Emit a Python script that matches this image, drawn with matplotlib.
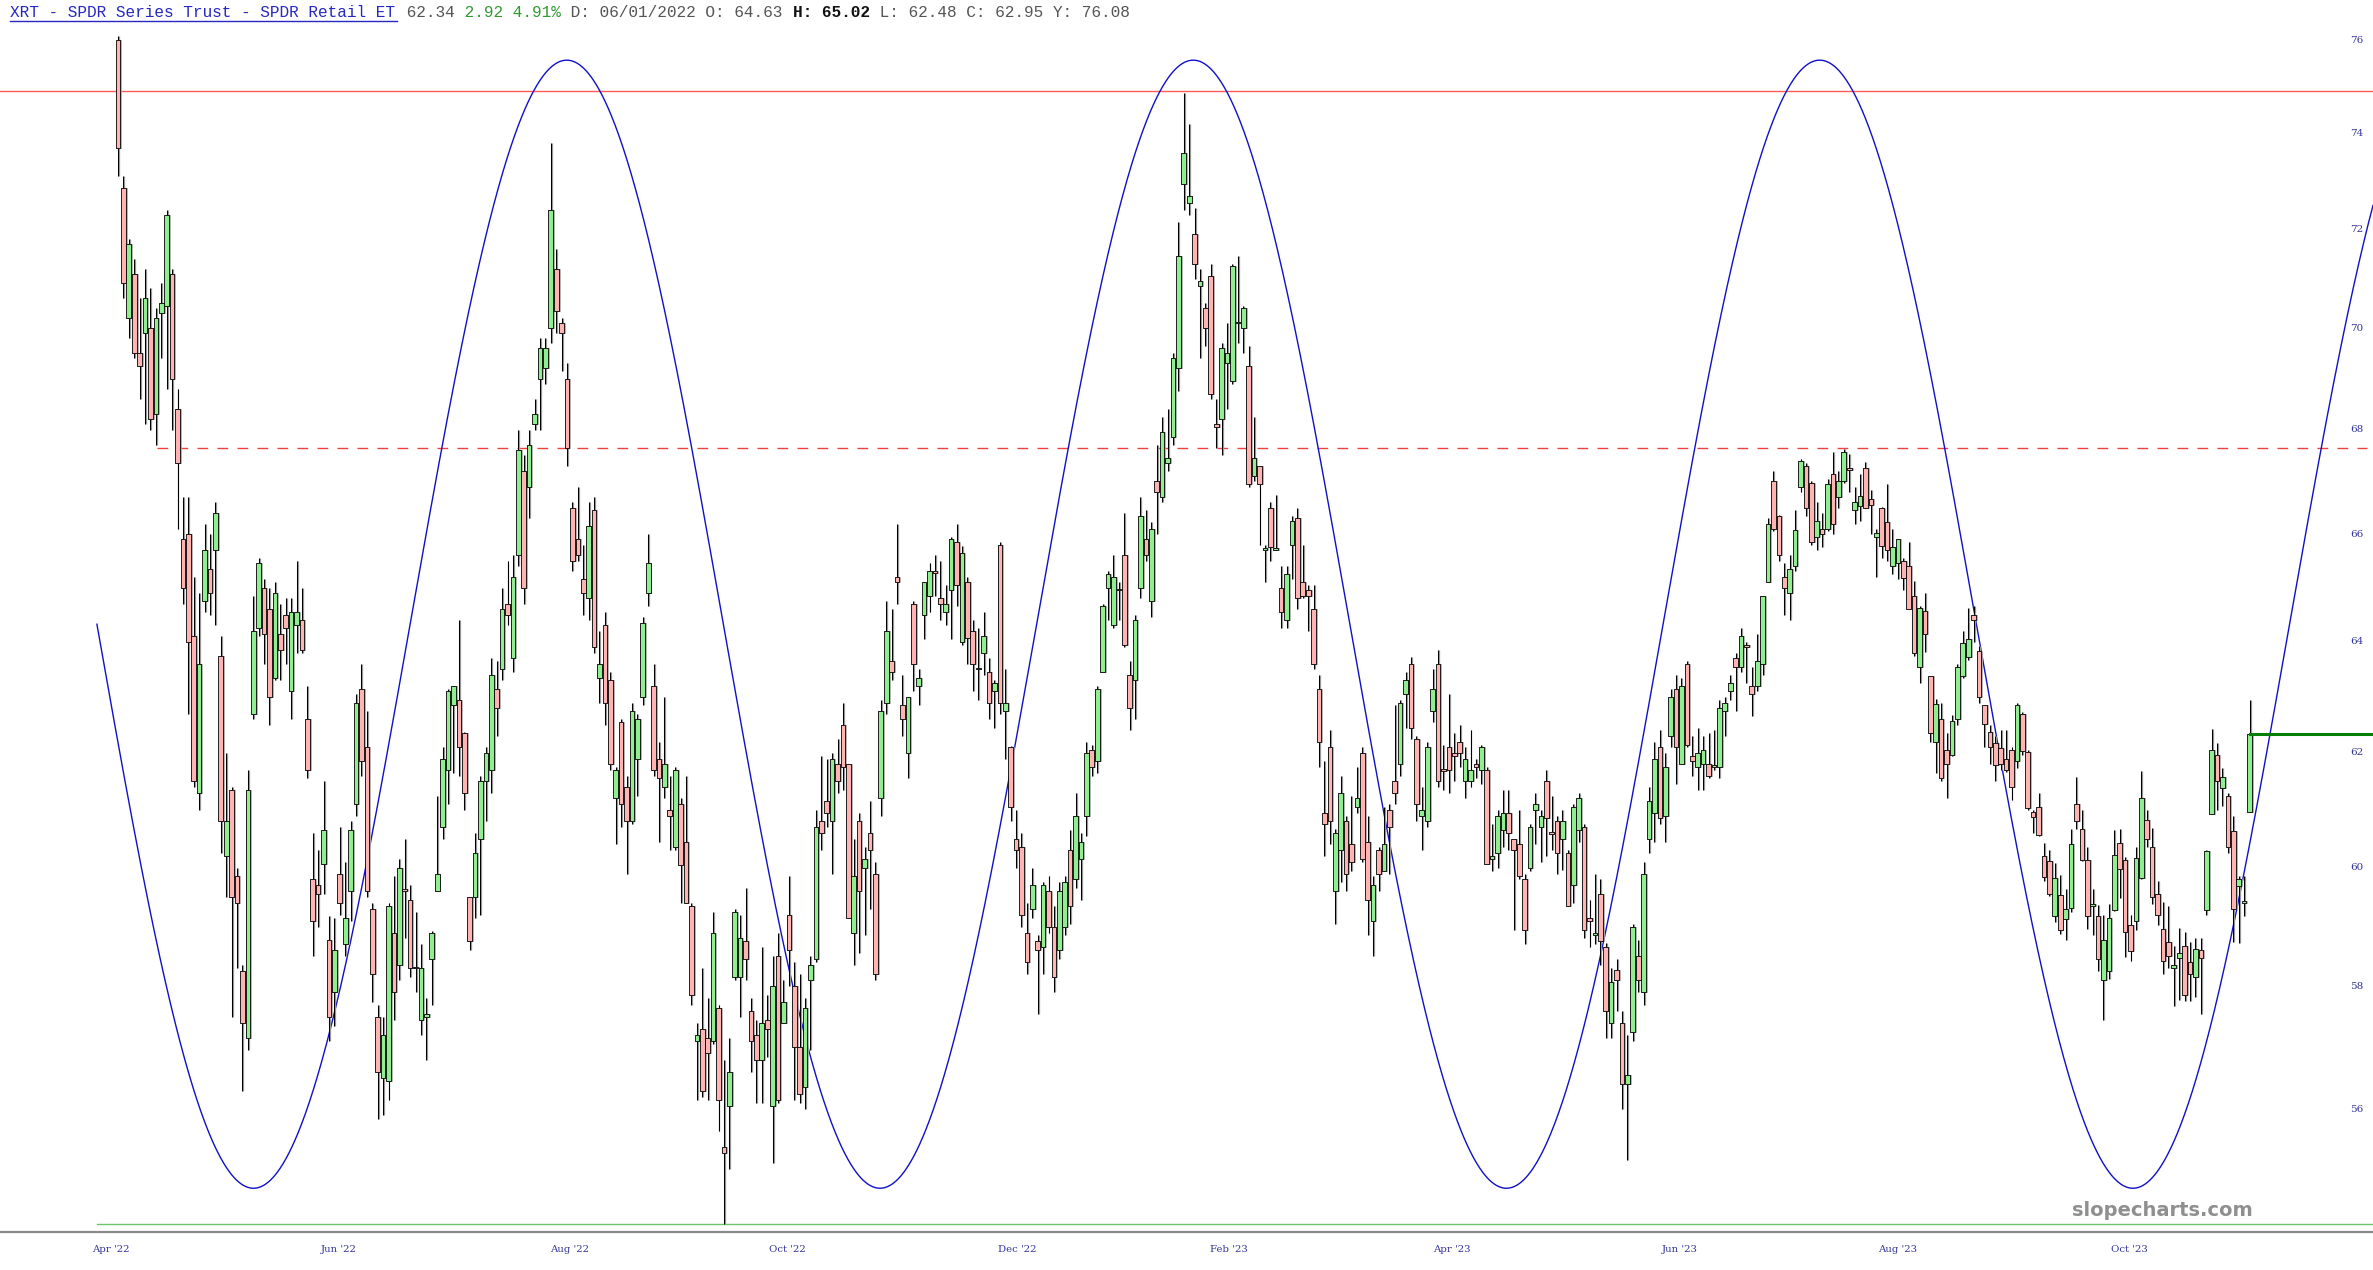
import numpy as np
import matplotlib
matplotlib.use("Agg")
import matplotlib.pyplot as plt
from matplotlib.patches import Rectangle
from matplotlib.collections import PatchCollection, LineCollection
from matplotlib.transforms import blended_transform_factory

# ---------------- data (XRT daily candles, Apr 2022 - Nov 2023) ----------------
opens = [
    76.0, 72.85, 70.2, 71.1, 69.5, 69.9, 70.0, 68.3, 70.3, 70.45,
    71.1, 68.4, 65.9, 66.0, 64.1, 61.3, 64.75, 65.35, 65.7, 63.75,
    60.2, 61.35, 59.85, 58.25, 57.15, 62.7, 64.25, 65.0, 64.6, 63.35,
    64.15, 64.5, 63.1, 64.3, 64.4, 62.6, 59.8, 59.7, 60.06, 58.78,
    57.9, 59.9, 58.7, 59.6, 61.1, 63.15, 62.1, 59.3, 57.5, 56.5,
    56.45, 58.9, 58.35, 59.62, 59.45, 58.32, 57.45, 57.5, 58.45, 59.6,
    60.7, 61.7, 62.85, 62.95, 62.35, 59.5, 59.5, 60.5, 61.5, 61.7,
    63.15, 63.5, 64.7, 63.7, 65.6, 67.2, 66.9, 68.1, 69.0, 69.2,
    70.0, 71.2, 70.1, 69.0, 66.5, 65.9, 65.15, 64.8, 66.45, 63.35,
    64.3, 63.3, 61.2, 62.55, 61.4, 60.8, 61.9, 63.0, 64.9, 63.2,
    61.9, 61.4, 61.0, 60.35, 61.1, 60.45, 59.35, 57.1, 57.3, 57.15,
    57.1, 57.65, 55.4, 56.05, 58.15, 58.15, 58.75, 57.6, 57.2, 56.8,
    57.45, 56.05, 58.5, 57.4, 59.2, 58.0, 57.0, 56.35, 58.1, 58.45,
    60.8, 61.15, 60.8, 61.8, 62.5, 61.8, 58.9, 60.8, 60.0, 60.6,
    59.9, 61.2, 62.9, 63.65, 65.2, 62.85, 62.0, 64.7, 63.2, 64.5,
    64.85, 65.28, 64.8, 64.55, 64.95, 65.85, 64.0, 65.1, 64.2, 63.5,
    63.8, 63.45, 63.1, 65.8, 62.75, 62.1, 60.5, 60.35, 58.9, 59.3,
    58.75, 58.65, 59.6, 59.0, 58.6, 59.0, 60.3, 59.8, 60.15, 60.9,
    62.05, 61.85, 63.45, 65.0, 64.3, 64.95, 65.6, 63.4, 63.3, 65.0,
    65.9, 64.75, 67.0, 66.7, 67.35, 67.85, 69.2, 72.95, 72.55, 71.9,
    70.85, 70.4, 71.05, 68.1, 68.2, 69.3, 68.95, 70.1, 70.0, 69.25,
    67.1, 67.3, 65.7, 66.5, 65.7, 65.0, 64.4, 65.8, 66.3, 65.1,
    64.95, 64.6, 63.15, 60.95, 62.1, 59.6, 60.3, 60.8, 60.4, 61.05,
    62.0, 60.45, 59.1, 60.3, 59.95, 61.0, 61.5, 61.8, 63.05, 63.6,
    62.25, 60.9, 60.8, 62.75, 63.6, 61.7, 62.1, 62.0, 62.2, 61.5,
    61.5, 61.8, 61.7, 61.7, 60.15, 60.25, 60.65, 60.95, 60.5, 60.4,
    59.8, 60.0, 61.0, 60.7, 61.5, 60.6, 60.8, 60.5, 60.25, 59.7,
    60.65, 60.7, 59.15, 58.85, 59.55, 58.65, 57.4, 58.28, 57.4, 56.4,
    57.25, 58.5, 57.9, 60.5, 60.95, 62.1, 60.9, 62.3, 63.15, 61.8,
    63.6, 61.95, 61.75, 61.8, 61.8, 61.76, 61.75, 62.75, 63.1, 63.7,
    63.55, 63.95, 63.2, 63.2, 63.6, 65.1, 67.0, 66.35, 65.2, 64.9,
    65.4, 66.9, 67.3, 66.98, 65.95, 66.1, 66.1, 67.15, 66.7, 67.0,
    67.23, 66.45, 66.53, 67.25, 66.67, 65.95, 66.5, 66.23, 65.4, 65.45,
    65.5, 65.4, 64.85, 63.55, 64.56, 63.37, 62.2, 62.6, 62.05, 61.97,
    62.6, 63.37, 63.72, 64.5, 63.84, 62.85, 62.37, 62.17, 62.08, 61.9,
    62.05, 61.85, 62.7, 62.02, 60.96, 61.05, 60.2, 60.12, 59.17, 59.53,
    59.13, 59.32, 61.1, 60.67, 60.13, 59.35, 59.18, 58.1, 58.26, 59.28,
    60.43, 60.13, 59.03, 59.1, 59.82, 60.82, 60.36, 59.55, 58.96, 58.74,
    58.3, 58.48, 58.68, 58.41, 58.16, 58.6, 59.28, 60.93, 61.96, 61.39,
    61.25, 60.64, 59.68, 59.4, 60.97,
]
highs = [
    76.1, 73.1, 71.8, 71.4, 70.6, 71.2, 70.8, 70.4, 70.9, 72.4,
    71.2, 68.8, 66.7, 66.7, 65.2, 64.9, 66.2, 66.0, 66.6, 64.1,
    62.0, 61.4, 60.0, 58.35, 61.7, 64.85, 65.55, 65.15, 65.0, 65.1,
    64.7, 64.8, 64.8, 65.5, 65.0, 63.2, 60.6, 60.3, 61.5, 59.17,
    59.15, 60.7, 60.1, 60.8, 63.05, 63.6, 62.75, 59.4, 57.7, 57.5,
    59.4, 59.85, 60.15, 60.5, 59.7, 59.25, 58.7, 57.8, 58.93, 61.25,
    62.1, 63.15, 63.2, 64.4, 62.38, 59.5, 60.6, 61.6, 62.1, 63.7,
    63.65, 65.0, 65.5, 65.6, 68.0, 67.5, 68.0, 68.6, 69.8, 69.8,
    73.8, 71.6, 70.2, 69.3, 66.6, 66.9, 65.8, 66.6, 66.7, 64.2,
    64.55, 63.45, 61.75, 62.6, 61.6, 62.9, 62.7, 64.45, 66.0, 63.6,
    62.2, 63.0, 61.6, 61.75, 61.2, 61.6, 59.4, 57.4, 58.3, 57.8,
    59.25, 57.7, 56.8, 57.15, 59.3, 59.2, 59.65, 57.8, 57.45, 58.65,
    57.85, 58.5, 58.9, 58.1, 59.85, 58.4, 58.2, 57.8, 58.5, 61.0,
    61.95, 61.9, 62.0, 62.25, 62.9, 61.8, 60.5, 60.95, 60.35, 61.15,
    60.1, 62.95, 64.75, 64.6, 66.2, 63.4, 63.0, 64.75, 63.5, 65.1,
    65.45, 65.6, 65.5, 65.05, 65.95, 66.2, 65.78, 65.2, 64.4, 64.25,
    64.55, 63.7, 63.3, 65.85, 63.5, 62.13, 61.0, 60.6, 59.4, 60.0,
    58.85, 59.75, 59.85, 59.35, 59.75, 59.85, 60.65, 61.3, 60.6, 62.2,
    62.15, 63.2, 64.7, 65.3, 65.6, 65.1, 66.4, 63.65, 64.5, 66.7,
    66.45, 66.23, 67.7, 68.25, 68.4, 69.5, 72.15, 74.87, 74.2, 72.45,
    71.2, 70.5, 71.3, 68.6, 69.7, 70.1, 71.3, 71.45, 70.45, 69.65,
    68.25, 67.3, 65.8, 66.6, 66.75, 65.4, 65.4, 66.35, 66.5, 65.8,
    65.05, 65.05, 63.4, 61.85, 62.4, 60.66, 61.6, 60.9, 61.25, 61.75,
    62.1, 60.9, 59.85, 60.35, 61.05, 61.1, 62.85, 62.95, 63.45, 63.73,
    62.3, 61.4, 62.2, 63.5, 63.85, 62.15, 63.05, 62.35, 62.5, 62.1,
    62.4, 61.9, 62.15, 61.75, 60.75, 61.0, 61.35, 61.35, 60.5, 61.0,
    59.9, 60.75, 61.3, 61.0, 61.7, 61.25, 60.9, 61.0, 60.3, 61.1,
    61.3, 60.75, 59.45, 59.9, 59.8, 58.73, 58.3, 58.45, 57.6, 57.2,
    59.05, 58.77, 60.1, 61.4, 62.2, 62.4, 62.0, 63.15, 63.4, 63.35,
    63.65, 62.3, 62.45, 62.3, 62.35, 62.4, 62.95, 63.0, 63.4, 63.8,
    64.25, 64.0, 63.55, 64.15, 64.85, 66.3, 67.2, 66.37, 65.45, 65.6,
    66.45, 67.43, 67.35, 67.0, 66.6, 66.4, 67.05, 67.56, 67.2, 67.62,
    67.53, 66.9, 67.15, 67.37, 66.83, 66.1, 66.52, 66.95, 66.1, 65.9,
    65.55, 65.85, 65.12, 64.65, 64.9, 63.37, 62.97, 62.9, 62.35, 62.68,
    63.6, 64.2, 64.62, 64.66, 63.92, 62.86, 62.5, 62.3, 62.4, 62.4,
    62.1, 62.9, 62.73, 62.05, 61.0, 61.3, 60.42, 60.3, 60.08, 59.87,
    59.64, 60.66, 61.58, 61.0, 60.36, 59.64, 59.37, 59.2, 59.38, 60.65,
    60.67, 60.18, 59.2, 60.35, 61.69, 61.0, 60.68, 59.78, 59.42, 59.35,
    58.68, 58.98, 58.91, 58.74, 58.81, 58.8, 60.3, 62.43, 62.17, 61.74,
    61.3, 60.9, 59.85, 59.86, 62.94,
]
lows = [
    73.1, 70.6, 69.8, 69.4, 68.6, 68.1, 68.0, 67.7, 69.4, 68.8,
    68.0, 66.1, 64.7, 62.7, 61.4, 61.0, 64.55, 64.5, 64.3, 60.25,
    59.5, 57.5, 58.3, 56.3, 56.95, 62.6, 64.1, 63.6, 62.5, 63.3,
    63.3, 63.6, 62.6, 63.8, 63.8, 61.55, 58.5, 59.0, 59.56, 57.1,
    57.35, 59.2, 58.5, 59.1, 60.9, 61.6, 59.5, 57.75, 55.85, 55.9,
    56.15, 57.45, 58.1, 58.8, 58.15, 57.9, 57.2, 56.8, 57.7, 59.6,
    60.5, 61.1, 61.65, 61.6, 61.0, 58.6, 59.15, 59.2, 60.8, 61.3,
    62.3, 63.3, 64.3, 63.45, 65.4, 64.7, 66.3, 68.0, 68.0, 68.9,
    69.7, 69.9, 69.15, 67.3, 65.3, 65.5, 64.5, 64.4, 63.8, 62.9,
    62.5, 61.7, 60.4, 60.7, 59.9, 60.75, 61.25, 62.85, 64.65, 61.6,
    60.45, 61.2, 60.3, 60.3, 59.4, 59.4, 57.7, 56.15, 56.2, 56.15,
    57.05, 55.65, 54.2, 55.05, 58.1, 57.5, 58.1, 56.6, 56.1, 56.1,
    56.85, 55.15, 56.1, 57.4, 58.0, 56.15, 56.1, 56.0, 56.95, 58.4,
    60.3, 60.7, 59.9, 61.3, 61.35, 59.15, 58.35, 58.55, 58.85, 59.3,
    58.1, 60.9, 62.7, 63.3, 64.7, 62.3, 61.55, 63.1, 62.85, 64.05,
    64.55, 64.85, 64.4, 64.3, 64.05, 64.65, 63.95, 63.6, 63.1, 62.95,
    63.4, 62.6, 62.45, 62.7, 61.9, 60.8, 60.0, 59.0, 58.2, 59.15,
    57.55, 58.2, 58.9, 57.9, 58.45, 58.85, 59.05, 59.65, 59.45, 60.55,
    61.6, 61.65, 63.45, 64.4, 64.25, 64.4, 63.9, 62.4, 62.6, 64.8,
    65.5, 64.45, 66.0, 66.6, 67.2, 67.7, 68.75, 72.4, 72.3, 70.98,
    69.4, 69.65, 68.6, 67.65, 67.5, 68.4, 68.9, 69.7, 69.5, 66.9,
    67.0, 65.8, 65.1, 65.5, 65.7, 64.25, 64.25, 65.15, 64.6, 64.8,
    64.2, 63.5, 61.75, 60.2, 60.4, 59.05, 59.75, 59.6, 59.95, 60.95,
    60.1, 58.85, 58.5, 59.6, 59.95, 59.9, 61.1, 61.6, 62.45, 62.25,
    60.8, 60.3, 60.7, 62.55, 61.4, 61.35, 61.3, 61.5, 61.75, 61.2,
    61.4, 61.55, 61.45, 60.07, 59.95, 60.0, 60.35, 60.3, 58.95, 59.8,
    58.7, 59.95, 60.4, 60.1, 60.2, 60.3, 59.9, 59.96, 59.35, 59.4,
    60.45, 58.8, 58.65, 58.7, 58.35, 57.15, 57.15, 57.6, 56.0, 55.2,
    57.1, 57.9, 57.7, 60.25, 60.45, 60.75, 60.45, 62.1, 61.45, 61.8,
    62.1, 61.6, 61.35, 61.35, 61.55, 61.7, 61.55, 62.3, 62.95, 62.75,
    63.45, 63.25, 62.65, 63.1, 63.4, 65.1, 66.05, 65.5, 64.5, 64.4,
    65.3, 66.8, 66.35, 65.8, 65.7, 65.75, 66.05, 66.0, 66.5, 66.97,
    66.8, 66.2, 66.25, 66.5, 66.0, 65.2, 65.55, 65.5, 65.25, 65.15,
    64.95, 64.6, 63.74, 63.25, 63.82, 62.2, 61.65, 61.5, 61.2, 61.95,
    62.5, 63.35, 63.67, 64.0, 62.9, 62.1, 61.8, 61.5, 61.7, 61.67,
    61.17, 61.73, 61.97, 61.0, 60.6, 60.55, 59.78, 59.52, 59.07, 58.87,
    58.77, 59.25, 60.66, 60.12, 58.96, 58.85, 58.26, 57.44, 58.13, 59.27,
    59.48, 58.49, 58.43, 58.95, 59.81, 60.35, 59.38, 59.03, 58.2, 58.31,
    57.68, 57.77, 57.76, 57.76, 57.82, 57.55, 59.2, 60.92, 61.0, 61.06,
    60.26, 58.74, 58.73, 59.17, 60.97,
]
closes = [
    73.7, 70.9, 71.7, 69.5, 69.25, 70.6, 68.2, 70.2, 70.5, 72.3,
    69.0, 67.35, 65.0, 64.0, 61.5, 63.6, 65.7, 64.9, 66.4, 60.8,
    60.8, 59.5, 59.4, 57.4, 61.35, 64.2, 65.45, 64.15, 63.0, 64.9,
    63.85, 64.25, 64.55, 64.55, 63.85, 61.7, 59.1, 59.55, 60.65, 57.5,
    58.6, 59.4, 59.15, 60.65, 62.9, 61.85, 59.6, 58.2, 56.6, 57.2,
    59.35, 57.9, 60.0, 59.6, 58.3, 58.3, 58.3, 57.55, 58.9, 59.9,
    61.9, 63.1, 63.2, 62.1, 61.3, 58.75, 60.25, 61.5, 62.0, 63.4,
    62.8, 64.6, 64.5, 65.2, 67.6, 65.0, 67.7, 68.3, 69.6, 69.6,
    72.4, 70.35, 69.9, 67.65, 65.5, 65.6, 64.9, 66.15, 63.9, 63.6,
    62.9, 61.8, 61.7, 61.1, 60.8, 62.75, 62.6, 64.35, 65.45, 61.7,
    61.55, 61.8, 60.9, 61.7, 60.05, 59.4, 57.85, 57.2, 56.3, 56.9,
    58.9, 56.15, 55.3, 56.6, 59.25, 58.8, 58.45, 57.1, 56.8, 57.4,
    57.3, 58.0, 56.15, 57.75, 58.6, 57.0, 56.25, 57.65, 58.35, 60.7,
    60.6, 60.95, 61.9, 61.5, 61.75, 59.15, 59.85, 59.6, 60.15, 60.3,
    58.2, 62.75, 64.2, 63.45, 65.1, 62.6, 63.0, 63.6, 63.35, 65.1,
    65.3, 65.27, 64.7, 64.7, 65.9, 65.05, 65.65, 64.07, 63.6, 63.52,
    64.1, 62.9, 63.25, 62.9, 62.9, 61.05, 60.3, 59.2, 58.4, 59.7,
    58.6, 59.7, 59.0, 58.15, 59.6, 59.75, 59.35, 60.9, 60.45, 62.0,
    61.75, 63.15, 64.65, 65.25, 65.2, 64.95, 63.95, 62.8, 64.4, 66.35,
    65.6, 66.1, 66.8, 67.95, 67.45, 69.4, 71.45, 73.6, 72.7, 71.3,
    70.95, 70.0, 68.7, 68.05, 69.6, 69.5, 71.25, 70.12, 70.4, 66.95,
    67.45, 66.95, 65.72, 65.75, 65.72, 64.55, 65.25, 66.25, 64.8, 64.85,
    64.85, 63.6, 62.2, 60.75, 60.8, 60.6, 61.3, 59.9, 60.1, 61.2,
    60.15, 59.45, 59.7, 59.9, 60.4, 60.7, 61.3, 62.9, 63.3, 62.45,
    61.1, 61.0, 62.1, 63.15, 61.5, 61.68, 61.7, 61.95, 62.0, 61.9,
    61.7, 61.75, 62.1, 60.07, 60.2, 60.9, 60.95, 60.6, 60.3, 59.85,
    58.95, 60.7, 61.1, 60.9, 60.85, 60.58, 60.25, 60.8, 59.35, 61.05,
    61.2, 58.95, 59.1, 58.9, 58.75, 57.6, 58.07, 58.1, 56.4, 56.55,
    58.99, 58.1, 59.9, 61.15, 61.9, 60.85, 61.75, 63.0, 62.1, 63.2,
    62.15, 61.85, 62.0, 62.05, 61.6, 61.79, 62.8, 62.9, 63.25, 63.55,
    64.1, 63.9, 63.05, 63.65, 64.85, 66.2, 66.1, 65.6, 65.0, 65.35,
    66.07, 67.4, 66.5, 65.85, 66.25, 66.0, 66.95, 66.2, 67.0, 67.57,
    67.22, 66.6, 66.73, 66.5, 66.55, 66.03, 65.77, 65.7, 65.75, 65.9,
    65.17, 64.6, 63.8, 64.62, 64.15, 62.35, 62.87, 61.55, 61.8, 62.57,
    63.55, 63.98, 64.06, 64.4, 63.0, 62.52, 62.11, 61.78, 61.8, 61.7,
    61.4, 62.85, 62.03, 61.03, 60.87, 60.57, 59.84, 59.55, 59.83, 58.94,
    59.3, 60.4, 60.81, 60.14, 59.17, 59.38, 58.45, 58.77, 59.14, 60.22,
    59.97, 58.91, 58.59, 60.16, 61.2, 60.5, 59.5, 59.2, 58.43, 58.5,
    58.35, 58.55, 57.86, 58.2, 58.63, 58.48, 60.28, 62.05, 61.5, 61.57,
    60.36, 59.3, 59.8, 59.42, 62.34,
]

month_labels = ["Apr '22", "Jun '22", "Aug '22", "Oct '22", "Dec '22",
                "Feb '23", "Apr '23", "Jun '23", "Aug '23", "Oct '23"]
month_pos = [-1.4, 40.9, 83.4, 123.7, 166.2, 205.4, 246.5, 288.7, 329.0, 371.8]

price_ticks = [56, 58, 60, 62, 64, 66, 68, 70, 72, 74, 76]

# drawn studies / levels
resistance_level = 74.9
dashed_level = 67.65
dashed_start = 7.2
support_level = 54.2
sine_start = -3.9
sine_period = 115.8
sine_high = 75.57
sine_low = 54.75

title_segments = [
    ("XRT - SPDR Series Trust - SPDR Retail ET", "#2727c4", "normal"),
    (" 62.34", "#555555", "normal"),
    (" 2.92 4.91%", "#2f9a2f", "normal"),
    (" D: 06/01/2022 O: 64.63 ", "#555555", "normal"),
    ("H: 65.02", "#111111", "bold"),
    (" L: 62.48 C: 62.95 Y: 76.08", "#555555", "normal"),
]

# ---------------- figure ----------------
W, H, DPI = 2373, 1270, 100
fig = plt.figure(figsize=(W / DPI, H / DPI), dpi=DPI)
fig.patch.set_facecolor("white")

axes_bottom_px = 1232
ax = fig.add_axes([0, 1 - axes_bottom_px / H, 1, axes_bottom_px / H])
ax.set_facecolor("white")

step_px = 5.41
first_px = 118
x_left = -first_px / step_px
x_right = (W - first_px) / step_px
ax.set_xlim(x_left, x_right)
ax.set_yscale("log")
ax.set_ylim(54.07, 76.88)
ax.set_xticks([])
ax.set_yticks([])
ax.yaxis.set_minor_locator(matplotlib.ticker.NullLocator())
for s in ["top", "left", "right"]:
    ax.spines[s].set_visible(False)
ax.spines["bottom"].set_color("#8a8a8a")
ax.spines["bottom"].set_linewidth(1.6)

n = min(len(opens), len(highs), len(lows), len(closes))
xs = np.arange(n)
o = np.array(opens[:n]); h = np.array(highs[:n])
l = np.array(lows[:n]); c = np.array(closes[:n])

# horizontal levels
ax.plot([x_left, x_right], [resistance_level] * 2, color="#ff5a5a", lw=1.0, zorder=1)
ax.plot([dashed_start, x_right - 1.2], [dashed_level] * 2, color="#f04040", lw=1.0,
        dashes=(7.7, 6.7), zorder=1)
ax.plot([sine_start, x_right], [support_level] * 2, color="#6cc46c", lw=1.0, zorder=1)

# sine study (log-price space)
sx = np.linspace(sine_start, x_right, 3000)
mid = (np.log(sine_high) + np.log(sine_low)) / 2
amp = (np.log(sine_high) - np.log(sine_low)) / 2
sy = np.exp(mid - amp * np.sin(2 * np.pi * (sx - sine_start) / sine_period))
ax.plot(sx, sy, color="#1010c8", lw=1.0, zorder=2)

# candles
bw = 0.86
sh = 0.18
shadow_wicks = [[(x + sh, lo), (x + sh, hi)] for x, lo, hi in zip(xs, l, h)]
wicks = [[(x, lo), (x, hi)] for x, lo, hi in zip(xs, l, h)]
ax.add_collection(LineCollection(shadow_wicks, colors="#9a9a9a", linewidths=0.9, zorder=3))
ax.add_collection(LineCollection(wicks, colors="#000000", linewidths=0.75, zorder=4))

shadows, bodies, fcols = [], [], []
for x, oo, cc in zip(xs, o, c):
    lo_b, hi_b = min(oo, cc), max(oo, cc)
    if hi_b - lo_b < 0.03:
        hi_b = lo_b + 0.03
    shadows.append(Rectangle((x - bw / 2 + sh, lo_b), bw, hi_b - lo_b))
    bodies.append(Rectangle((x - bw / 2, lo_b), bw, hi_b - lo_b))
    fcols.append("#90ee90" if cc >= oo else "#ffb4b4")
ax.add_collection(PatchCollection(shadows, facecolor="#a8a8a8", edgecolor="#a8a8a8",
                                  linewidth=0.5, zorder=4))
ax.add_collection(PatchCollection(bodies, facecolor=fcols, edgecolor="#000000",
                                  linewidth=0.6, zorder=5))

# last price line
ax.plot([xs[-1], x_right], [c[-1]] * 2, color="#008000", lw=2.2, zorder=6)

# price labels (right, inside)
ytr = blended_transform_factory(ax.transAxes, ax.transData)
for p in price_ticks:
    ax.text(2350 / W, p, str(p), transform=ytr, ha="left", va="center",
            fontsize=7.5, color="#333399", family="DejaVu Serif")

# month labels
tr = blended_transform_factory(ax.transData, fig.transFigure)
for lab, pos in zip(month_labels, month_pos):
    ax.text(pos, 1 - 1250 / H, lab, transform=tr, ha="center", va="center",
            fontsize=7.3, color="#333399", family="DejaVu Serif", clip_on=False)

# watermark
fig.text(2162 / W, 1 - 1211 / H, "slopecharts.com", ha="center", va="center",
         fontsize=14, fontweight="bold", color="#8f8f8f", family="DejaVu Sans")

# title line (monospace, coloured segments)
fs = 11.6
char_px = 0.6 * fs * DPI / 72
x0 = 10
ypx = 12.5
pos_chars = 0
for txt, col, wt in title_segments:
    fig.text((x0 + pos_chars * char_px) / W, 1 - ypx / H, txt, ha="left", va="center",
             fontsize=fs, color=col, fontweight=wt, family="Liberation Mono")
    pos_chars += len(txt)
ul_len = len(title_segments[0][0]) * char_px
fig.add_artist(matplotlib.lines.Line2D([x0 / W, (x0 + ul_len) / W],
                                       [1 - 21 / H, 1 - 21 / H],
                                       color=title_segments[0][1], lw=1.0))

fig.savefig("out.png", dpi=DPI, facecolor="white")
